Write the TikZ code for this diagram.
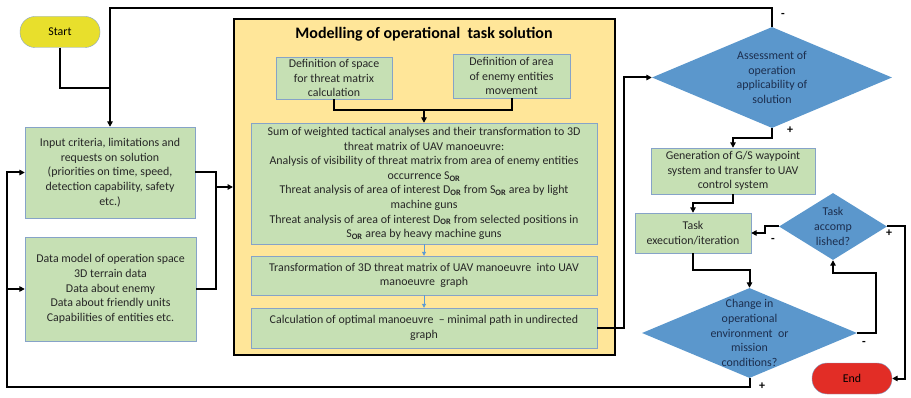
\documentclass[tikz,border=0pt]{standalone}
\usepackage{fontspec}
\setmainfont{Carlito}
\usepackage{tikz}
\usetikzlibrary{arrows.meta,positioning,calc,shapes.geometric}
\definecolor{BoxGreen}{HTML}{C6E0B4}
\definecolor{BoxEdge}{HTML}{86A3C8}
\definecolor{DiamondBlue}{HTML}{5B97CC}
\definecolor{DiamondText}{HTML}{1C2E4E}
\definecolor{FrameYellow}{HTML}{FFE699}
\definecolor{StartYellow}{HTML}{E8DF2C}
\definecolor{EndRed}{HTML}{E22D26}
\definecolor{ThinBlue}{HTML}{5B9BD5}

\newcommand{\sor}{S\textsubscript{\textbf{OR}}}
\newcommand{\dor}{D\textsubscript{\textbf{OR}}}

\begin{document}
\begin{tikzpicture}[x=1pt,y=-1pt,>={Triangle[length=5.5pt,width=5.5pt]},
  every node/.style={font=\fontsize{11.9}{14.6}\selectfont},
  process/.style={rectangle,draw=BoxEdge,fill=BoxGreen,align=center,inner sep=2pt,text=black!85},
  decision/.style={diamond,fill=DiamondBlue,text=DiamondText,align=center,inner sep=0pt},
  terminal/.style={rectangle,rounded corners=15pt,draw=BoxEdge,minimum width=80pt,minimum height=31pt},
  link/.style={line width=2pt},
  flow/.style={->,line width=2pt},
  thinflow/.style={-{Triangle[length=4pt,width=4pt]},thick,ThinBlue},
  sign/.style={font=\fontsize{12}{13}\selectfont\bfseries,inner sep=1pt}]
  \useasboundingbox (0,0) rectangle (911,398);

  % modelling block
  \node[draw=black,line width=2pt,fill=FrameYellow,minimum width=381pt,minimum height=336pt,inner sep=0pt]
    (frame) at (424.5,187) {};
  \node[font=\fontsize{16}{18}\selectfont\bfseries] (title) at (424,34) {Modelling of operational\ \ task solution};

  % terminals
  \node[terminal,fill=StartYellow] (start) at (60,32) {Start};
  \node[terminal,fill=EndRed] (end) at (852,378.5) {End};

  % inputs
  \node[process,minimum width=170pt,minimum height=91pt] (input) at (110,172.5)
    {Input criteria, limitations and\\ requests on solution\\ (priorities on time, speed,\\ detection capability, safety\\ etc.)};
  \node[process,minimum width=171pt,minimum height=104pt] (data) at (110.5,289)
    {Data model of operation space\\ 3D terrain data\\ Data about enemy\\ Data about friendly units\\ Capabilities of entities etc.};

  % inside the modelling block
  \node[process,minimum width=116pt,minimum height=42pt] (defspace) at (334,78)
    {Definition of space\\ for threat matrix\\ calculation};
  \node[process,minimum width=117pt,minimum height=44pt] (defarea) at (511.5,76)
    {Definition of area\\ of enemy entities\\ movement};
  \node[process,minimum width=346pt,minimum height=121pt] (sum) at (424,183.5)
    {Sum of weighted tactical analyses and their transformation to 3D\\ threat matrix of UAV manoeuvre:\\
     Analysis of visibility of threat matrix from area of enemy entities\\ occurrence \sor\\
     Threat analysis of area of interest \dor{} from \sor{} area by light\\ machine guns\\
     Threat analysis of area of interest \dor{} from selected positions in\\ \sor{} area by heavy machine guns};
  \node[process,minimum width=346pt,minimum height=39pt] (transform) at (424,275.5)
    {Transformation of 3D threat matrix of UAV manoeuvre\ \ into UAV\\ manoeuvre\ \ graph};
  \node[process,minimum width=346pt,minimum height=40pt] (calc) at (424,328)
    {Calculation of optimal manoeuvre\ \ -- minimal path in undirected\\ graph};

  % right hand loop
  \node[decision,aspect=2.4,minimum width=240pt,minimum height=101pt] (assess) at (772,77.5)
    {Assessment of\\ operation\\ applicability of\\ solution};
  \node[process,minimum width=164pt,minimum height=46pt] (gen) at (733,171)
    {Generation of G/S waypoint\\ system and transfer to UAV\\ control system};
  \node[process,minimum width=116pt,minimum height=40pt] (task) at (693,233)
    {Task\\ execution/iteration};
  \node[decision,aspect=1.6,minimum width=108pt,minimum height=67pt] (accomp) at (833,226.5)
    {Task\\ accomp\\ lished?};
  \node[decision,aspect=2.5,inner ysep=-14pt,minimum width=215pt,minimum height=90pt] (change) at (749.5,333)
    {Change in\\ operational\\ environment\ \ or\\ mission\\ conditions?};

  % connectors on the left
  \coordinate (startjoin) at (110,88);
  \coordinate (topturn) at (110,8);
  \coordinate (merge) at (216,187);
  \coordinate (loopcorner) at (7,387);
  \draw[link] (start.south) |- (startjoin);
  \draw[flow] (assess.north) |- (topturn) -- (input.north);
  \draw[link] (input.east) -| (merge);
  \draw[link] (data.east) -| (merge);
  \draw[flow] (merge) -- (frame.west);
  \draw[flow] (change.south) |- (loopcorner) |- (input.west);
  \draw[flow] (loopcorner |- data.west) -- (data.west);

  % connectors in the modelling block
  \coordinate (defjoin) at (424,110);
  \draw[link] (defspace.south) |- (defjoin) -| (defarea.south);
  \draw[flow] (defjoin) -- (sum.north);
  \draw[thinflow] (sum.south) -- (transform.north);
  \draw[thinflow] (transform.south) -- (calc.north);

  % connectors on the right
  \coordinate (backturn) at (accomp.south |- 0,273);
  \draw[flow] (calc.east) -- ++(27,0) |- (assess.west);
  \draw[flow] (assess.south) -- ++(0,10) -| (gen.north);
  \draw[flow] (gen.south) -- ++(0,9) -| (task.north);
  \draw[flow] (task.south) -- ++(0,17) -| (change.north);
  \draw[flow] (change.east) -- ++(19,0) |- (backturn) -- (accomp.south);
  \draw[flow] (accomp.west) -- ++(-14,0) |- (task.east);
  \draw[flow] (accomp.east) -- ++(18,0) |- (end.east);

  % decision outcomes
  \node[sign] (minusassess) at (783,15) {-};
  \node[sign] (plusassess) at (790,130) {+};
  \node[sign] (minusaccomp) at (773,240) {-};
  \node[sign] (plusaccomp) at (889,233) {+};
  \node[sign] (minuschange) at (864,343) {-};
  \node[sign] (pluschange) at (762,386) {+};
\end{tikzpicture}
\end{document}
